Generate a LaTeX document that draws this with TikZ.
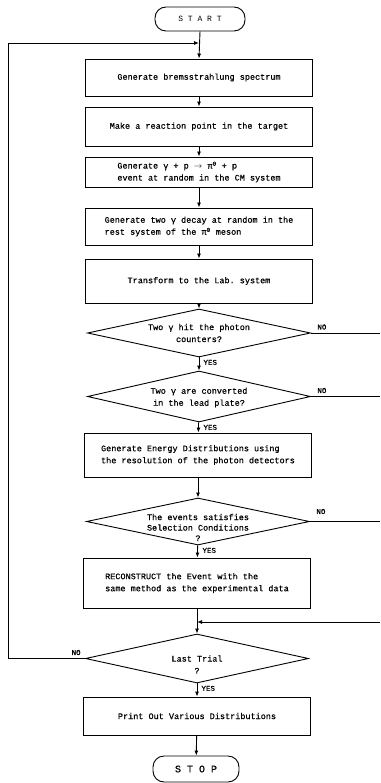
\documentclass[tikz,border=0pt]{standalone}
\usepackage{fontspec}
\setmonofont{Liberation Mono}[AutoFakeBold=0.6]
\usetikzlibrary{arrows.meta, positioning, shapes.geometric}

\begin{document}
\begin{tikzpicture}[x=1pt, y=-1pt, line width=0.9pt,
    every node/.style={font=\ttfamily\bfseries\fontsize{8.5}{12}\selectfont},
    proc/.style={draw, minimum width=227pt, align=left, inner sep=2pt},
    decision/.style={draw, diamond, minimum width=223pt, inner sep=0pt},
    dtext/.style={align=center, inner sep=0pt},
    term/.style={draw, rounded corners=11pt, minimum width=90pt, minimum height=24pt},
    tag/.style={font=\ttfamily\bfseries\fontsize{7.5}{9}\selectfont, inner sep=1pt},
    flow/.style={-{Latex[length=5pt, width=4pt]}}]
\useasboundingbox (0,0) rectangle (380,783);

% main column
\node[term, font=\ttfamily\fontsize{8}{10}\selectfont] (start) at (200,19) {S T A R T};
\node[proc, minimum height=37pt] (spec) at (199,77.5) {Generate bremsstrahlung spectrum};
\node[proc, minimum height=39pt] (point) at (199,126.5) {Make a reaction point in the target};
\node[proc, minimum height=30pt] (event) at (199,172) {Generate  γ + p \ensuremath{\rightarrow} π\textsuperscript{0} + p\\event at random in the CM system};
\node[proc, minimum height=37pt] (decay) at (199,226.5) {Generate two γ decay at random in the\\rest system of the π\textsuperscript{0} meson};
\node[proc, minimum height=44pt] (lab) at (199,281) {Transform to the Lab. system};
\node[decision, minimum height=48pt, label={[dtext]center:{Two γ hit the photon\\counters?}}] (hit) at (199,333) {};
\node[decision, minimum height=51pt, label={[dtext, yshift=-1pt]center:{Two γ are converted\\in the lead plate?}}] (conv) at (199,396.5) {};
\node[proc, minimum height=44pt] (energy) at (198,455) {Generate Energy Distributions using\\ the resolution of the photon detectors};
\node[decision, minimum height=47pt, label={[dtext, yshift=-6pt, font=\ttfamily\bfseries\fontsize{8.5}{10.5}\selectfont]center:{The events satisfies\\Selection Conditions\\?}}] (sel) at (198,521.5) {};
\node[proc, minimum height=50pt] (reco) at (197,583) {RECONSTRUCT the Event with the\\same method as the experimental data};
\node[decision, minimum height=49pt, label={[dtext, yshift=-6pt]center:{Last Trial\\?}}] (last) at (197,658.5) {};
\node[proc, minimum height=38pt] (print) at (197,716) {Print Out Various Distributions};
\node[term, minimum width=86pt, minimum height=26pt, font=\ttfamily\bfseries\fontsize{10}{12}\selectfont] (stop) at (196,769) {S T O P};

% loop and exit points
\coordinate (loopin) at (199,43);
\coordinate (looptop) at (8,43);
\coordinate (rimA) at (380,333);
\coordinate (rimB) at (380,396.5);
\coordinate (rimC) at (380,521.5);
\coordinate (rimD) at (380,622);
\coordinate (join) at (197,622);

\draw[flow] (start.south) -- (spec.north);
\draw[flow] (spec) -- (point);
\draw[flow] (point) -- (event);
\draw[flow] (event) -- (decay);
\draw[flow] (decay) -- (lab);
\draw[flow] (lab) -- (hit);
\draw[flow] (hit) -- (conv);
\draw[flow] (conv) -- (energy);
\draw[flow] (energy) -- (sel);
\draw[flow] (sel) -- (reco);
\draw[flow] (reco) -- (last);
\draw[flow] (last) -- (print);
\draw[flow] (print) -- (stop);

\draw (hit.east) -- (rimA);
\draw (conv.east) -- (rimB);
\draw (sel.east) -- (rimC);
\draw[flow] (rimD) -- (join);
\draw[flow] (last.west) -| (looptop) -- (loopin);

% labels
\node[tag, anchor=south west, xshift=5pt, yshift=2pt] (noA) at (hit.east) {NO};
\node[tag, anchor=south west, xshift=5pt, yshift=2pt] (noB) at (conv.east) {NO};
\node[tag, anchor=south west, xshift=5pt, yshift=6pt] (noC) at (sel.east) {NO};
\node[tag, anchor=south east, xshift=-3pt, yshift=2pt] (noD) at (last.west) {NO};
\node[tag, anchor=north west, xshift=3pt, yshift=-1pt] (yesA) at (hit.south) {YES};
\node[tag, anchor=north west, xshift=3pt, yshift=-1pt] (yesB) at (conv.south) {YES};
\node[tag, anchor=north west, xshift=3pt, yshift=-1pt] (yesC) at (sel.south) {YES};
\node[tag, anchor=north west, xshift=3pt, yshift=-1pt] (yesD) at (last.south) {YES};
\end{tikzpicture}
\end{document}
